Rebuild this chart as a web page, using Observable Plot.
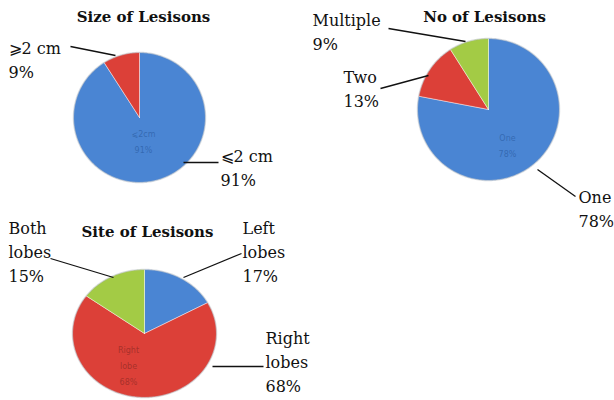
<!DOCTYPE html>
<html><head><meta charset="utf-8">
<script src="https://cdn.jsdelivr.net/npm/d3@7"></script>
<script src="https://cdn.jsdelivr.net/npm/@observablehq/plot@0.6"></script>
<style>body{margin:0;background:#fff}</style>
</head><body><div id="chart"></div>
<script>
// ---- data ----
const sizeCategories = ["⩽2 cm", "⩾2 cm"];
const sizeValues = [91, 9];
const countCategories = ["One", "Two", "Multiple"];
const countValues = [78, 13, 9];
const siteCategories = ["Left lobes", "Right lobes", "Both lobes"];
const siteValues = [17, 68, 15];
const titles = ["Size of Lesisons", "No of Lesisons", "Site of Lesisons"];

// ---- style / layout ----
const BLUE = "#4a85d3", RED = "#dc4038", GREEN = "#a3cb45";
const serif = "DejaVu Serif";
const pies = [
  {title: titles[0], cats: sizeCategories, vals: sizeValues, colors: [BLUE, RED],
   cx: 139, cy: 117, rx: 66, ry: 65, titleX: 143, titleY: 21,
   labels: [
     {i: 1, x: 8, y: 53, lines: ["⩾2 cm", "9%"], leader: [70, 46, 115, 55]},
     {i: 0, x: 220, y: 161, lines: ["⩽2 cm", "91%"], leader: [183, 162, 218, 162]}
   ],
   inner: {x: 143, y: 136, lines: ["⩽2cm", "91%"], color: "#2b5da3"}},
  {title: titles[1], cats: countCategories, vals: countValues, colors: [BLUE, RED, GREEN],
   cx: 488, cy: 109, rx: 71, ry: 71, titleX: 484, titleY: 21,
   labels: [
     {i: 2, x: 312, y: 25, lines: ["Multiple", "9%"], leader: [388, 28, 465, 41]},
     {i: 1, x: 343, y: 82, lines: ["Two", "13%"], leader: [380, 88, 428, 75]},
     {i: 0, x: 578, y: 202, lines: ["One", "78%"], leader: [537, 169, 575, 196]}
   ],
   inner: {x: 507, y: 140, lines: ["One", "78%"], color: "#2b5da3"}},
  {title: titles[2], cats: siteCategories, vals: siteValues, colors: [BLUE, RED, GREEN],
   cx: 144, cy: 333, rx: 72, ry: 64, titleX: 147, titleY: 236,
   labels: [
     {i: 2, x: 8, y: 233, lines: ["Both", "lobes", "15%"], leader: [50, 258, 113, 277]},
     {i: 0, x: 242, y: 233, lines: ["Left", "lobes", "17%"], leader: [183, 277, 241, 253]},
     {i: 1, x: 265, y: 343, lines: ["Right", "lobes", "68%"], leader: [212, 366, 263, 366]}
   ],
   inner: {x: 128, y: 352, lines: ["Right", "lobe", "68%"], color: "#8e2a24"}}
];

// ---- build slice polygons from values ----
const marks = [];
const texts = [], links = [], titleRows = [], innerRows = [];
for (const p of pies) {
  const arcs = d3.pie().sort(null).value(d => d)(p.vals);
  arcs.forEach((a, k) => {
    const pts = [{x: p.cx, y: p.cy}];
    const n = Math.max(2, Math.ceil((a.endAngle - a.startAngle) / 0.02));
    for (let j = 0; j <= n; j++) {
      const t = a.startAngle + (a.endAngle - a.startAngle) * j / n;
      pts.push({x: p.cx + p.rx * Math.sin(t), y: p.cy - p.ry * Math.cos(t)});
    }
    pts.push({x: p.cx, y: p.cy});
    marks.push(Plot.line(pts, {x: "x", y: "y", fill: p.colors[k], stroke: "#ffffff", strokeOpacity: 0.55, strokeWidth: 0.8}));
  });
  const edge = d3.range(0, 2 * Math.PI + 0.02, 0.02).map(t => ({x: p.cx + p.rx * Math.sin(t), y: p.cy - p.ry * Math.cos(t)}));
  marks.push(Plot.line(edge, {x: "x", y: "y", stroke: "#9aa3ad", strokeOpacity: 0.35, strokeWidth: 1.5}));
  titleRows.push({x: p.titleX, y: p.titleY, text: p.title});
  for (const l of p.labels) {
    l.lines.forEach((s, j) => texts.push({x: l.x, y: l.y + j * 24, text: s}));
    links.push({x1: l.leader[0], y1: l.leader[1], x2: l.leader[2], y2: l.leader[3]});
  }
  p.inner.lines.forEach((s, j) => innerRows.push({x: p.inner.x, y: p.inner.y + j * 16, text: s, color: p.inner.color}));
}

const chart = Plot.plot({
  width: 614, height: 400,
  margin: 0,
  x: {domain: [0, 614], range: [0, 614], axis: null},
  y: {domain: [0, 400], range: [0, 400], axis: null},
  style: {background: "#fff"},
  marks: [
    ...marks,
    Plot.link(links, {x1: "x1", y1: "y1", x2: "x2", y2: "y2", stroke: "#111", strokeWidth: 1.3}),
    Plot.text(texts, {x: "x", y: "y", text: "text", textAnchor: "start", lineAnchor: "bottom", fontFamily: serif, fontSize: 16, fill: "#111"}),
    Plot.text(titleRows, {x: "x", y: "y", text: "text", textAnchor: "middle", lineAnchor: "bottom", fontFamily: serif, fontWeight: "bold", fontSize: 15, fill: "#111"}),
    Plot.text(innerRows, {x: "x", y: "y", text: "text", textAnchor: "middle", lineAnchor: "bottom", fontFamily: "DejaVu Sans", fontSize: 8, fill: "color", fillOpacity: 0.7})
  ]
});
document.getElementById("chart").append(chart);
</script>
</body></html>
